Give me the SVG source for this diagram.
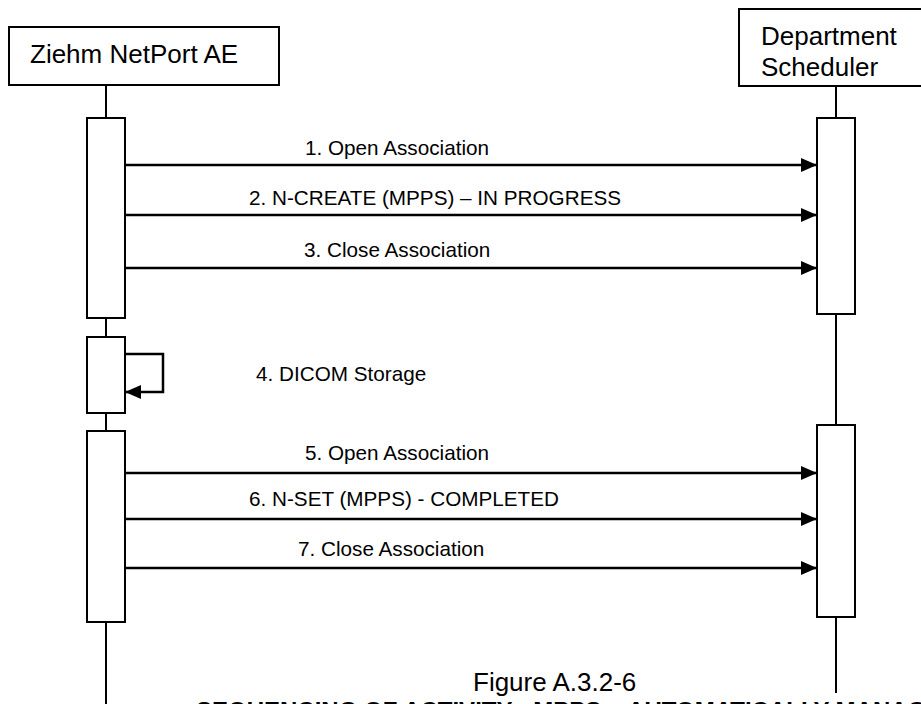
<svg xmlns="http://www.w3.org/2000/svg" width="921" height="704" viewBox="0 0 921 704">
<defs>
<style>
.box{fill:#fff;stroke:#000;stroke-width:2}
.act{fill:#fff;stroke:#000;stroke-width:2}
.life{stroke:#000;stroke-width:2;fill:none}
.msg{stroke:#000;stroke-width:2.5;fill:none;marker-end:url(#ah)}
.t{font-family:"Liberation Sans",Arial,sans-serif;fill:#000}
.big{font-size:26px}
.lbl{font-size:20.7px}
</style>
<marker id="ah" viewBox="0 0 16 14" refX="16" refY="7" markerWidth="16" markerHeight="14" markerUnits="userSpaceOnUse" orient="auto">
<path d="M0,0 L16,7 L0,14 Z" fill="#000"/>
</marker>
</defs>
<rect width="921" height="704" fill="#fff"/>
<g id="lifelines">
<line class="life" x1="106" y1="85" x2="106" y2="704"/>
<line class="life" x1="836" y1="86" x2="836" y2="693"/>
</g>
<g id="node-ziehm">
<rect class="box" x="9" y="27" width="270" height="58"/>
<text class="t big" x="30" y="63">Ziehm NetPort AE</text>
</g>
<g id="node-scheduler">
<rect class="box" x="739" y="9" width="200" height="77"/>
<text class="t big" x="761" y="45">Department</text>
<text class="t big" x="761" y="76">Scheduler</text>
</g>
<g id="activations">
<rect class="act" x="87" y="118" width="38" height="200"/>
<rect class="act" x="87" y="337" width="38" height="76"/>
<rect class="act" x="87" y="431" width="38" height="191"/>
<rect class="act" x="817" y="118" width="38" height="196"/>
<rect class="act" x="817" y="425" width="38" height="192"/>
</g>
<g id="connectors">
<line class="msg" x1="125" y1="165" x2="817" y2="165"/>
<line class="msg" x1="125" y1="215" x2="817" y2="215"/>
<line class="msg" x1="125" y1="268" x2="817" y2="268"/>
<path class="msg" d="M125,354 H163 V392 H125"/>
<line class="msg" x1="125" y1="473" x2="817" y2="473"/>
<line class="msg" x1="125" y1="519" x2="817" y2="519"/>
<line class="msg" x1="125" y1="568" x2="817" y2="568"/>
</g>
<g id="labels">
<text class="t lbl" x="305" y="155">1. Open Association</text>
<text class="t lbl" x="249" y="205">2. N-CREATE (MPPS) – IN PROGRESS</text>
<text class="t lbl" x="304" y="257">3. Close Association</text>
<text class="t lbl" x="256" y="381">4. DICOM Storage</text>
<text class="t lbl" x="305" y="460">5. Open Association</text>
<text class="t lbl" x="249" y="506">6. N-SET (MPPS) - COMPLETED</text>
<text class="t lbl" x="298" y="556">7. Close Association</text>
</g>
<g id="caption">
<text class="t big" x="473" y="691">Figure A.3.2-6</text>
<text class="t" x="196" y="719" font-size="24" font-weight="bold">SEQUENCING OF ACTIVITY - MPPS – AUTOMATICALLY MANAGED</text>
</g>
</svg>
